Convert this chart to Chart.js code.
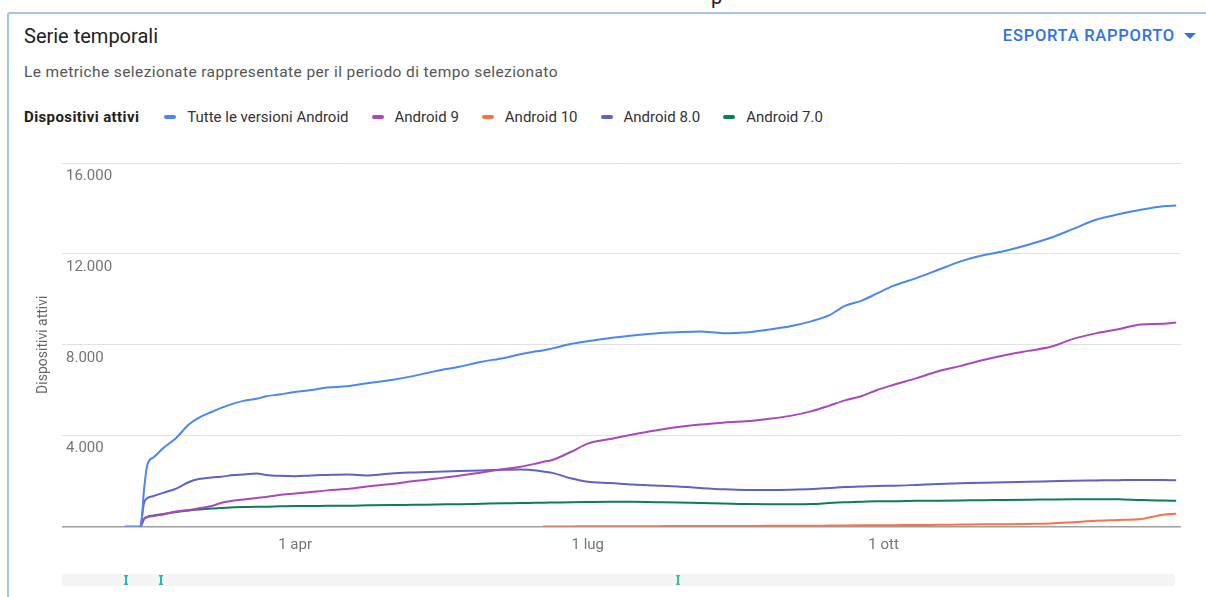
<!DOCTYPE html>
<html>
<head>
<meta charset="utf-8">
<script src="https://cdn.jsdelivr.net/npm/chart.js@4.4.0/dist/chart.umd.min.js"></script>
<style>
html,body{margin:0;padding:0;background:#fff;width:1206px;height:597px;overflow:hidden;font-family:Roboto,"Noto Sans",sans-serif;}
#frame{position:absolute;left:7px;top:12px;width:1220px;height:620px;border-left:2px solid #a3c4ee;border-top:2px solid #a3c4ee;border-top-left-radius:3px;box-sizing:border-box;}
#frag{position:absolute;left:711px;top:-15px;font-size:20px;color:#222;line-height:24px;}
#title{position:absolute;left:24px;top:23px;font-size:20px;line-height:26px;color:#212121;}
#subtitle{position:absolute;left:24px;top:62px;font-size:15.5px;letter-spacing:0.4px;line-height:20px;color:#555;}
#export{position:absolute;right:10px;top:26px;font-size:16.5px;letter-spacing:0.75px;line-height:20px;font-weight:500;color:#2f74e0;display:flex;align-items:center;}
#export .tri{width:0;height:0;border-left:6px solid transparent;border-right:6px solid transparent;border-top:6px solid #2f74e0;margin-left:9px;}
#legend{position:absolute;left:24px;top:107px;height:20px;display:flex;align-items:center;font-size:15px;line-height:20px;color:#333;}
#legend .lbl{font-weight:700;font-size:15px;letter-spacing:0.4px;color:#212121;margin-right:25px;}
#legend .item{display:flex;align-items:center;margin-right:23px;}
#legend .mk{width:12px;height:4px;border-radius:2px;margin-right:11px;}
#wrap{position:absolute;left:0;top:140px;width:1206px;height:457px;}
</style>
</head>
<body>
<div id="frame"></div>
<div id="frag">p</div>
<div id="title">Serie temporali</div>
<div id="subtitle">Le metriche selezionate rappresentate per il periodo di tempo selezionato</div>
<div id="export">ESPORTA RAPPORTO<span class="tri"></span></div>
<div id="legend"><span class="lbl">Dispositivi attivi</span></div>
<div id="wrap"><canvas id="c"></canvas></div>
<script>
// Day of year 2019 (0 = 1 gen)
const days = [37,42,43,44,46,49,53,57,60,64,67,71,74,78,81,85,90,95,100,106,113,120,127,134,141,148,155,160,165,167,170,176,181,188,195,202,209,216,223,230,237,244,251,256,261,266,271,276,283,290,297,304,311,318,325,332,339,346,353,360,364];

const seriesNames = ['Tutte le versioni Android','Android 9','Android 10','Android 8.0','Android 7.0'];
const seriesColors = ['#4a86f5','#ab47bc','#ff7043','#5c62c6','#0b7c5c'];

const allAndroid = [0,0,1600,2700,3050,3450,3900,4500,4780,5040,5220,5420,5530,5620,5730,5810,5920,6010,6120,6170,6320,6450,6630,6850,7030,7250,7420,7580,7710,7750,7840,8040,8150,8300,8410,8500,8550,8580,8510,8540,8660,8810,9050,9290,9710,9930,10260,10590,10920,11300,11670,11940,12140,12400,12710,13100,13500,13740,13940,14100,14130];
const android9 = [null,0,330,420,460,530,660,730,800,900,1035,1140,1190,1255,1300,1390,1450,1520,1590,1650,1770,1870,2000,2110,2230,2380,2530,2630,2775,2840,2930,3300,3650,3850,4050,4230,4380,4490,4570,4630,4735,4870,5090,5310,5550,5730,6010,6230,6520,6830,7070,7330,7550,7730,7910,8260,8500,8680,8890,8920,8980];
const android10 = [null,null,null,null,null,null,null,null,null,null,null,null,null,null,null,null,null,null,null,null,null,null,null,null,null,null,null,null,null,0,0,5,10,10,15,15,20,20,25,25,30,30,35,40,45,50,55,60,65,75,85,95,100,115,135,190,250,285,330,520,560];
const android80 = [null,0,1035,1240,1340,1480,1670,1960,2090,2160,2190,2270,2290,2335,2270,2230,2210,2250,2270,2290,2250,2335,2380,2415,2445,2470,2500,2510,2470,2420,2360,2110,1970,1915,1850,1805,1760,1695,1640,1610,1610,1620,1650,1695,1740,1760,1785,1795,1830,1870,1900,1930,1945,1970,1990,2010,2025,2040,2050,2050,2035];
const android70 = [null,0,330,420,485,550,640,705,750,795,815,845,860,870,870,890,905,905,910,910,930,945,955,970,980,1000,1020,1030,1045,1048,1055,1070,1080,1090,1085,1070,1055,1030,1010,985,980,980,990,1035,1070,1090,1115,1110,1130,1135,1145,1160,1165,1175,1190,1200,1200,1195,1165,1145,1135];

const xTickDays = [90,181,273];
const xTickLabels = ['1 apr','1 lug','1 ott'];
const yTicks = [0,4000,8000,12000,16000];
const markerDays = [37.5,48.4,209];
const markerColors = ['#2ab7b9','#2ab7b9','#3cc08f'];

const seriesValues = [allAndroid, android9, android10, android80, android70];

// HTML legend from series
const legend = document.getElementById('legend');
seriesNames.forEach((n,i)=>{
  const it = document.createElement('span'); it.className='item';
  const mk = document.createElement('span'); mk.className='mk'; mk.style.background=seriesColors[i];
  const tx = document.createElement('span'); tx.textContent=n;
  it.appendChild(mk); it.appendChild(tx); legend.appendChild(it);
});

const fmt = v => String(v).replace(/\B(?=(\d{3})+(?!\d))/g,'.');

const rangeBar = {
  id:'rangeBar',
  afterDraw(chart){
    const {ctx, chartArea, scales:{x}} = chart;
    ctx.save();
    ctx.fillStyle='#f4f4f4';
    ctx.fillRect(chartArea.left, 434, chartArea.right-chartArea.left-6, 12);
    markerDays.forEach((d,i)=>{
      const px = Math.round(x.getPixelForValue(d));
      ctx.fillStyle = markerColors[i];
      ctx.fillRect(px-1, 435, 2, 10);
      ctx.fillRect(px-2, 435, 4, 1.5);
      ctx.fillRect(px-2, 443.5, 4, 1.5);
    });
    ctx.restore();
  }
};

Chart.defaults.font.family = 'Roboto, "Noto Sans", sans-serif';

new Chart(document.getElementById('c'), {
  type:'line',
  data:{
    datasets: seriesNames.map((n,i)=>({
      label:n,
      data: days.map((d,j)=>({x:d, y:seriesValues[i][j]})),
      borderColor: seriesColors[i],
      backgroundColor: seriesColors[i],
      borderWidth: 2,
      pointRadius: 0,
      fill:false,
      cubicInterpolationMode:'monotone',
      spanGaps:false
    }))
  },
  options:{
    responsive:true,
    maintainAspectRatio:false,
    animation:false,
    layout:{padding:{top:23,left:29.2,right:25,bottom:33.5}},
    plugins:{legend:{display:false}, tooltip:{enabled:false}},
    scales:{
      x:{
        type:'linear', min:17.5, max:365.5,
        grid:{display:false, drawTicks:false},
        border:{display:false},
        afterBuildTicks: s => { s.ticks = xTickDays.map(v=>({value:v})); },
        ticks:{
          autoSkip:false, maxRotation:0, padding:9.5,
          color:'#757575', font:{size:15},
          callback: v => { const k = xTickDays.indexOf(v); return k>=0 ? xTickLabels[k] : ''; }
        }
      },
      y:{
        min:0, max:16000,
        afterBuildTicks: s => { s.ticks = yTicks.map(v=>({value:v})); },
        grid:{
          drawTicks:false,
          color: c => c.tick && c.tick.value===0 ? '#9e9e9e' : '#e2e2e2',
          lineWidth: c => c.tick && c.tick.value===0 ? 1.6 : 1
        },
        border:{display:false},
        title:{display:true, text:'Dispositivi attivi', color:'#666', font:{size:14}, padding:{top:6,bottom:2}},
        ticks:{
          mirror:true, padding:4, labelOffset:13,
          color:'#757575', font:{size:15},
          callback: v => v===0 ? '' : fmt(v)
        }
      }
    }
  },
  plugins:[rangeBar]
});
</script>
</body>
</html>
